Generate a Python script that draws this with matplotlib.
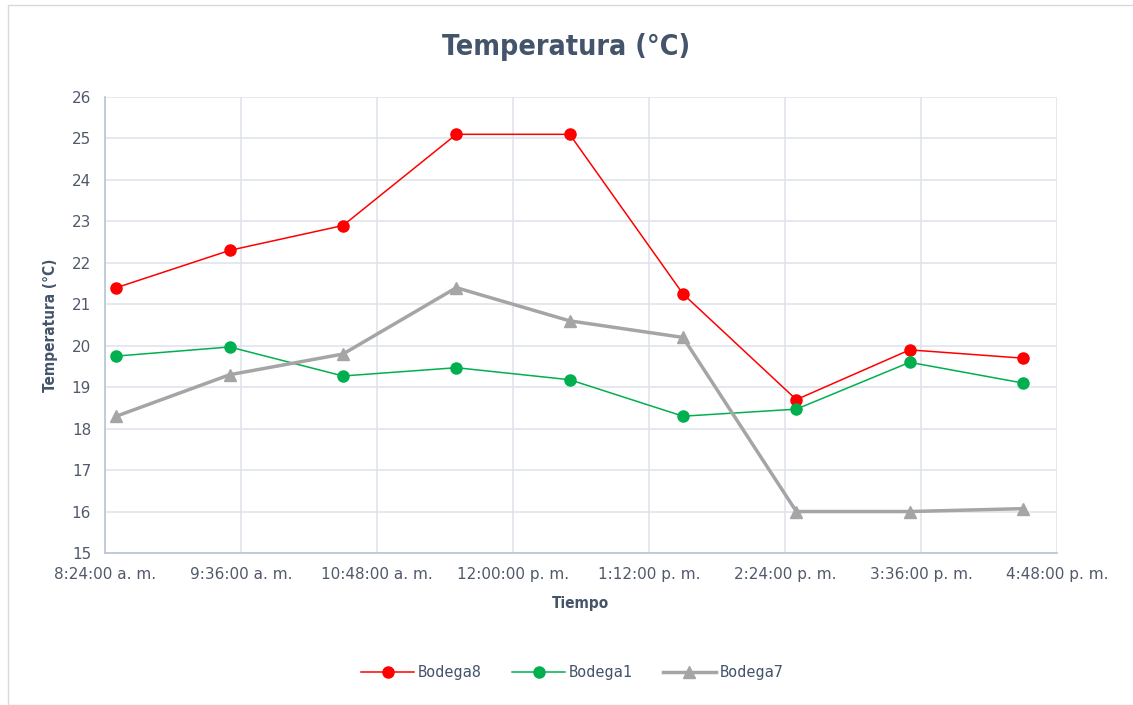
import matplotlib.pyplot as plt
from matplotlib.patches import Rectangle

# lecturas por hora
horas = ["8:30", "9:30", "10:30", "11:30", "12:30", "13:30", "14:30", "15:30", "16:30"]
bodega8 = [21.4, 22.3, 22.9, 25.1, 25.1, 21.25, 18.7, 19.9, 19.7]
bodega1 = [19.75, 19.97, 19.27, 19.47, 19.18, 18.3, 18.47, 19.6, 19.1]
bodega7 = [18.3, 19.3, 19.8, 21.4, 20.6, 20.2, 16.0, 16.0, 16.07]

ticks = ["8:24", "9:36", "10:48", "12:00", "13:12", "14:24", "15:36", "16:48"]
tick_labels = ["8:24:00 a. m.", "9:36:00 a. m.", "10:48:00 a. m.", "12:00:00 p. m.",
               "1:12:00 p. m.", "2:24:00 p. m.", "3:36:00 p. m.", "4:48:00 p. m."]


def minutos(h):
    hh, mm = h.split(":")
    return int(hh) * 60 + int(mm)


x = [minutos(h) for h in horas]
xt = [minutos(h) for h in ticks]

texto = "#44546A"
rejilla = "#DEE3EB"

fig = plt.figure(figsize=(11.33, 7.05), dpi=100)
fig.patches.append(Rectangle((8 / 1133, 0), 1, 1 - 5 / 705, transform=fig.transFigure,
                             fill=False, edgecolor="#D9D9D9", linewidth=1))

ax = fig.add_axes([105 / 1133, 152 / 705, 952 / 1133, 456 / 705])

ax.plot(x, bodega8, "-o", color="#FF0000", lw=1.1, ms=8, label="Bodega8")
ax.plot(x, bodega1, "-o", color="#00B050", lw=1.1, ms=8, label="Bodega1")
ax.plot(x, bodega7, "-^", color="#A5A5A5", lw=2.5, ms=8.5, label="Bodega7")

ax.set_xlim(xt[0], xt[-1])
ax.set_ylim(15, 26)
ax.set_xticks(xt)
ax.set_xticklabels(tick_labels)
ax.set_yticks(range(15, 27))

ax.grid(color=rejilla, linewidth=1.1)
ax.set_axisbelow(True)
for s in ["top", "right"]:
    ax.spines[s].set_visible(False)
for s in ["left", "bottom"]:
    ax.spines[s].set_color("#B8C3D6")
    ax.spines[s].set_linewidth(1.2)
ax.tick_params(length=0, labelsize=11, labelcolor="#505A6B", pad=10)

ax.set_xlabel("Tiempo", fontsize=11, fontweight="bold", color=texto,
              family="DejaVu Sans", stretch="condensed", labelpad=10)
ax.set_ylabel("Temperatura (°C)", fontsize=11, fontweight="bold", color=texto,
              family="DejaVu Sans", stretch="condensed", labelpad=10)

fig.text(0.5, 1 - 47 / 705, "Temperatura (°C)", ha="center", va="center",
         fontsize=20.5, fontweight="bold", color=texto, family="DejaVu Sans",
         stretch="condensed")

fig.legend(loc="center", bbox_to_anchor=(572 / 1133, 1 - 673 / 705), ncol=3,
           frameon=False, labelcolor=texto, handlelength=3.5,
           handletextpad=0.2, columnspacing=2.0,
           prop={"family": "DejaVu Sans Mono", "size": 11})

plt.savefig("out.png", dpi=100)
